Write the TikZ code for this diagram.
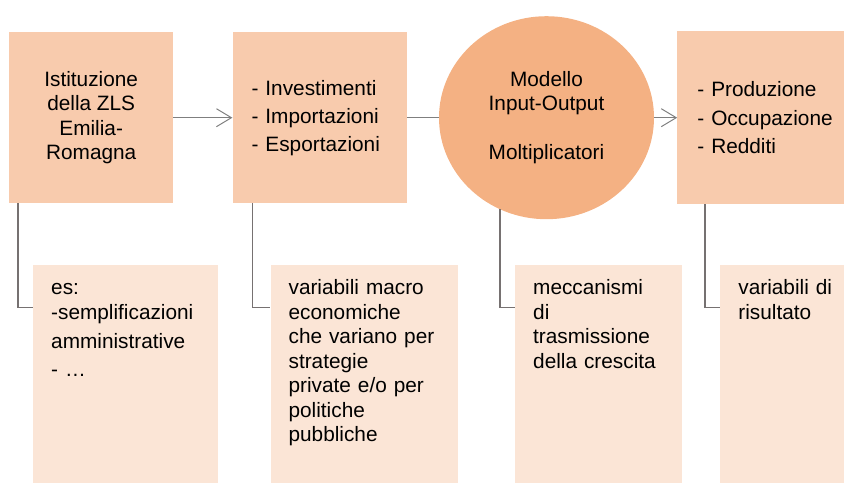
\documentclass[tikz,border=0pt]{standalone}
\usepackage{fontspec}
\setmainfont{Liberation Sans}
\usepackage{xcolor}
\usetikzlibrary{arrows.meta,positioning,shapes.geometric}

\definecolor{boxorange}{HTML}{F8CBAD}
\definecolor{circorange}{HTML}{F4B183}
\definecolor{notefill}{HTML}{FBE5D6}
\definecolor{linkgray}{HTML}{767171}
\definecolor{arrowgray}{HTML}{7F7F7F}
\hyphenpenalty=10000
\exhyphenpenalty=10000

\begin{document}
\begin{tikzpicture}[
  font=\fontsize{20.8pt}{24.5pt}\selectfont,
  box/.style={fill=boxorange, minimum height=171pt, inner sep=0pt},
  listbox/.style={box, align=left, text width=#1},
  circ/.style={ellipse, fill=circorange, minimum width=215pt, minimum height=203pt, inner sep=0pt, align=center},
  note/.style={fill=notefill, inner xsep=18pt, inner ysep=0pt, text height=30pt, text depth=188pt, align=left, text width=#1},
  flow/.style={-{Straight Barb[length=15pt, width=18pt]}, arrowgray, line width=1pt},
  plain/.style={arrowgray, line width=1pt},
  elbow/.style={linkgray, line width=1.5pt}]
  \useasboundingbox (0pt,0pt) rectangle (844pt,-483pt);
  % top row
  \node[box, minimum width=164pt, align=center, anchor=north west] (istituzione) at (9pt,-32pt)
    {Istituzione\\della ZLS\\Emilia-\\Romagna};
  \node[listbox=136pt, inner xsep=19pt, right=59pt of istituzione] (flussi)
    {-~Investimenti\\[3.5pt]-~Importazioni\\[3.5pt]-~Esportazioni};
  \node[circ, right=32pt of flussi] (modello)
    {Modello\\Input-Output\\[24.5pt]Moltiplicatori};
  \node[listbox=127pt, inner xsep=20pt, minimum height=173pt, right=23pt of modello] (effetti)
    {-~Produzione\\[4pt]-~Occupazione\\[4pt]-~Redditi};
  % notes below
  \node[note=149pt, below=61pt of istituzione.south west, anchor=north west, xshift=24pt] (esempi)
    {es:\\-semplificazioni\\[4.5pt]amministrative\\[3.5pt]- …};
  \node[note=151pt, below=61pt of flussi.south west, anchor=north west, xshift=38pt] (descvar)
    {variabili macro\\economiche\\che variano per\\strategie\\private e/o per\\politiche\\pubbliche};
  \node[note=131pt, below=45pt of modello.south, anchor=north west, xshift=-31.5pt] (descmod)
    {meccanismi\\di\\trasmissione\\della crescita};
  \node[note=88pt, below=60pt of effetti.south west, anchor=north west, xshift=43pt] (descris)
    {variabili~di\\risultato};
  % connectors
  \draw[flow] (istituzione) -- (flussi);
  \draw[plain] (flussi) -- (modello);
  \draw[flow] (modello) -- (effetti);
  \draw[elbow] ([xshift=9pt]istituzione.south west) |- ([yshift=-43pt]esempi.north west);
  \draw[elbow] ([xshift=20pt]flussi.south west) |- ([yshift=-43pt]descvar.north west);
  \draw[elbow] (modello.243) |- ([yshift=-43pt]descmod.north west);
  \draw[elbow] ([xshift=28pt]effetti.south west) |- ([yshift=-43pt]descris.north west);
\end{tikzpicture}
\end{document}
